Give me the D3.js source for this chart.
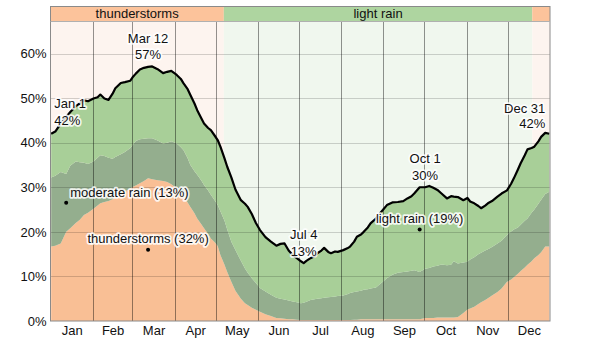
<!DOCTYPE html>
<html>
<head>
<meta charset="utf-8">
<script src="https://cdn.jsdelivr.net/npm/d3@7"></script>
<style>
  body { margin: 0; background: #fff; }
  svg text { font-family: Arial, "Liberation Sans", sans-serif; font-size: 13px; fill: #111; }
</style>
</head>
<body>
<svg id="chart" width="600" height="344"></svg>
<script>
// Day of year (0 = Jan 1, leap year) for each sample
const days = [
  0, 3, 7, 11, 14, 18, 21, 24, 27, 31,
  34, 36, 39, 42, 45, 47, 51, 54, 58, 60,
  62, 65, 68, 71, 74, 78, 82, 85, 88, 92,
  95, 97, 100, 102, 105, 107, 110, 112, 115, 117,
  120, 122, 124, 127, 129, 132, 135, 139, 142, 144,
  147, 150, 153, 157, 161, 165, 168, 171, 174, 177,
  180, 183, 185, 187, 190, 193, 195, 198, 200, 203,
  205, 208, 210, 214, 217, 219, 222, 224, 227, 229,
  232, 234, 238, 241, 243, 246, 250, 254, 258, 261,
  264, 266, 270, 274, 277, 280, 283, 286, 290, 293,
  295, 298, 302, 305, 307, 310, 313, 315, 318, 320,
  323, 327, 330, 334, 337, 339, 342, 344, 347, 349,
  352, 354, 357, 359, 362, 365
];

// Probability (%) of each precipitation type on a given day
const thunderstorms = [
  16.7, 16.9, 17.4, 20.0, 20.8, 22.0, 22.7, 23.8, 24.3, 25.2,
  25.9, 26.4, 26.7, 26.9, 27.3, 27.7, 28.6, 29.0, 29.8, 30.1,
  30.4, 30.9, 31.4, 32.0, 31.8, 31.6, 31.4, 31.2, 30.7, 29.8,
  28.8, 27.9, 26.6, 25.6, 24.2, 23.0, 21.7, 20.8, 19.5, 18.5,
  17.6, 16.8, 14.8, 12.6, 11.0, 8.8, 6.8, 5.0, 4.0, 3.6,
  3.0, 2.5, 2.1, 1.5, 1.1, 0.7, 0.6, 0.5, 0.4, 0.4,
  0.3, 0.2, 0.2, 0.2, 0.2, 0.2, 0.2, 0.2, 0.2, 0.2,
  0.2, 0.2, 0.2, 0.2, 0.2, 0.2, 0.3, 0.3, 0.4, 0.4,
  0.4, 0.4, 0.4, 0.4, 0.4, 0.4, 0.4, 0.4, 0.4, 0.4,
  0.4, 0.4, 0.4, 0.7, 0.7, 0.7, 0.8, 0.8, 0.8, 0.8,
  0.8, 0.9, 1.8, 2.6, 2.8, 3.2, 3.8, 4.2, 4.7, 5.1,
  5.7, 6.5, 7.3, 8.8, 9.3, 9.8, 10.6, 11.2, 12.0, 12.6,
  13.4, 14.1, 14.8, 15.4, 16.7, 16.7
];
const moderateRain = [
  15.5, 15.7, 16.0, 13.0, 14.0, 13.8, 12.9, 11.7, 10.9, 10.6,
  10.7, 10.8, 10.3, 9.7, 9.1, 9.1, 8.8, 8.9, 9.0, 9.5,
  10.0, 9.9, 9.5, 9.0, 9.2, 8.9, 8.4, 8.8, 9.6, 10.0,
  10.2, 10.4, 9.9, 9.4, 9.4, 9.8, 9.8, 9.7, 9.8, 9.8,
  9.4, 9.2, 9.8, 9.9, 9.5, 9.0, 9.1, 8.5, 7.8, 7.2,
  6.6, 6.0, 5.3, 5.1, 4.8, 4.5, 4.4, 4.3, 4.2, 4.0,
  3.9, 3.8, 3.9, 4.1, 4.5, 4.7, 4.8, 4.9, 5.0, 5.1,
  5.2, 5.3, 5.4, 5.5, 5.8, 6.1, 6.2, 6.3, 6.4, 6.6,
  6.7, 6.9, 7.1, 7.9, 8.4, 9.2, 10.0, 10.4, 10.6, 10.7,
  10.9, 11.0, 10.6, 11.0, 11.2, 11.5, 11.6, 11.9, 11.7, 11.8,
  12.6, 12.0, 11.3, 10.7, 11.0, 11.1, 11.2, 11.1, 11.1, 11.0,
  10.9, 10.9, 10.7, 10.5, 10.8, 10.7, 10.4, 10.4, 10.5, 10.4,
  10.9, 10.9, 11.5, 11.8, 11.8, 12.3
];
const lightRain = [
  9.8, 9.9, 10.9, 12.8, 12.1, 12.4, 13.2, 14.0, 14.1, 14.1,
  13.6, 13.6, 12.9, 13.0, 14.6, 15.4, 16.0, 15.7, 15.1, 15.2,
  15.1, 15.6, 15.9, 16.0, 16.1, 16.0, 15.8, 15.9, 15.8, 15.4,
  15.3, 15.0, 15.5, 15.7, 15.2, 14.5, 14.0, 13.8, 14.0, 14.5,
  14.5, 14.6, 14.5, 14.0, 14.1, 14.4, 13.6, 13.6, 14.5, 14.8,
  14.4, 13.5, 13.0, 12.2, 11.9, 11.7, 12.3, 12.6, 11.2, 10.4,
  9.9, 9.4, 8.9, 9.2, 9.4, 9.6, 10.2, 10.7, 11.2, 10.2,
  9.8, 10.1, 9.9, 10.2, 10.3, 10.4, 11.3, 12.3, 12.6, 13.0,
  13.9, 14.6, 15.5, 15.9, 16.1, 16.4, 16.2, 15.9, 15.9, 16.4,
  16.7, 17.2, 19.0, 18.3, 18.4, 17.7, 17.0, 15.9, 15.0, 15.4,
  14.5, 14.9, 14.0, 14.3, 13.0, 12.1, 10.8, 10.0, 10.1, 10.3,
  10.3, 10.5, 10.6, 10.0, 10.7, 11.5, 13.0, 13.8, 14.7, 15.5,
  14.5, 14.1, 14.0, 14.1, 13.7, 13.0
];

// Stacking order (bottom to top), colours and in-chart label positions
const seriesKeys = ["thunderstorms", "moderate rain", "light rain"];
const seriesColors = ["#f9bf95", "#94ae8e", "#a8cf98"];
const seriesLabelDays = [71, 11, 270];

// Dominant precipitation type by season (top strip)
const seasonNames = ["thunderstorms", "light rain", "thunderstorms"];
const seasonStarts = [0, 127, 353];
const seasonEnds = [127, 353, 366];
const seasonLabels = ["thunderstorms", "light rain", ""];

// Days whose total is called out on the black line
const calloutDays = [0, 71, 185, 274, 365];

const yTicks = [0, 10, 20, 30, 40, 50, 60];

// ---------------------------------------------------------------
const svg = d3.select("#chart");
const L = 50.5, R = 550, T = 21, B = 321, stripTop = 6;

const year0 = new Date(Date.UTC(2024, 0, 1));
const year1 = new Date(Date.UTC(2025, 0, 1));
const dayDate = d => new Date(year0.getTime() + (d + 0.5) * 864e5);

const x = d3.scaleUtc().domain([year0, year1]).range([L, R]);
const y = d3.scaleLinear().domain([0, 67.3]).range([B, T]);

const seriesData = [thunderstorms, moderateRain, lightRain];
const rows = days.map((d, i) => {
  const r = { day: d, date: dayDate(d) };
  seriesKeys.forEach((k, j) => r[k] = seriesData[j][i]);
  return r;
});
const totalOf = r => seriesKeys.reduce((s, k) => s + r[k], 0);

const seasonColor = { "thunderstorms": "#fdf4ef", "light rain": "#f0f7ee" };
const stripColor = { "thunderstorms": "#fcc39b", "light rain": "#aed5a0" };

// Plot background by season
svg.append("g").selectAll("rect")
  .data(seasonNames)
  .join("rect")
  .attr("x", (n, i) => x(new Date(year0.getTime() + seasonStarts[i] * 864e5)))
  .attr("width", (n, i) => x(new Date(year0.getTime() + seasonEnds[i] * 864e5)) - x(new Date(year0.getTime() + seasonStarts[i] * 864e5)))
  .attr("y", T).attr("height", B - T)
  .attr("fill", n => seasonColor[n]);

// Stacked areas
const stack = d3.stack().keys(seriesKeys);
const layers = stack(rows);
const area = d3.area()
  .x(d => x(d.data.date))
  .y0(d => y(d[0]))
  .y1(d => y(d[1]));

svg.append("g").selectAll("path")
  .data(layers)
  .join("path")
  .attr("d", area)
  .attr("fill", (d, i) => seriesColors[i]);

// Grid: horizontal at percentage ticks, vertical at month boundaries
svg.append("g").selectAll("line")
  .data(yTicks.filter(t => t > 0))
  .join("line")
  .attr("x1", L).attr("x2", R)
  .attr("y1", d => Math.round(y(d)) + 0.5).attr("y2", d => Math.round(y(d)) + 0.5)
  .attr("stroke", "rgba(0,0,0,0.17)");

const monthStarts = d3.utcMonth.range(year0, year1);
svg.append("g").selectAll("line")
  .data(monthStarts.slice(1))
  .join("line")
  .attr("x1", d => Math.round(x(d)) + 0.5).attr("x2", d => Math.round(x(d)) + 0.5)
  .attr("y1", T).attr("y2", B)
  .attr("stroke", "rgba(0,0,0,0.42)");

// Total probability line
const line = d3.line()
  .x(d => x(d.date))
  .y(d => y(totalOf(d)));
svg.append("path")
  .datum(rows)
  .attr("d", line)
  .attr("fill", "none")
  .attr("stroke", "#000")
  .attr("stroke-width", 2.2)
  .attr("stroke-linejoin", "round");

// Season strip above the plot
const strip = svg.append("g");
seasonNames.forEach((n, i) => {
  const x0 = x(new Date(year0.getTime() + seasonStarts[i] * 864e5));
  const x1 = x(new Date(year0.getTime() + seasonEnds[i] * 864e5));
  strip.append("rect")
    .attr("x", x0).attr("width", x1 - x0)
    .attr("y", stripTop).attr("height", T - stripTop)
    .attr("fill", stripColor[n]);
  if (seasonLabels[i]) {
    strip.append("text")
      .attr("x", (x0 + x1) / 2).attr("y", T - 3)
      .attr("text-anchor", "middle")
      .text(seasonLabels[i]);
  }
});

// Frame
svg.append("rect")
  .attr("x", L).attr("y", stripTop + 0.5)
  .attr("width", R - L).attr("height", B - stripTop - 0.5)
  .attr("fill", "none").attr("stroke", "#8a8a8a");
svg.append("line")
  .attr("x1", L).attr("x2", R).attr("y1", T + 0.5).attr("y2", T + 0.5)
  .attr("stroke", "#b0b0b0");

// Y axis labels
const yAxis = d3.axisLeft(y).tickValues(yTicks).tickFormat(d => d + "%").tickSize(0).tickPadding(4);
const ya = svg.append("g").attr("transform", `translate(${L},0)`).call(yAxis);
ya.select(".domain").remove();
ya.selectAll("text").style("font-size", "13px").attr("fill", "#111")
  .style("font-family", 'Arial, "Liberation Sans", sans-serif');

// Month labels centred in each month
const monthMid = monthStarts.map(m => new Date((m.getTime() + d3.utcMonth.offset(m, 1).getTime()) / 2));
const xAxis = d3.axisBottom(x).tickValues(monthMid).tickFormat(d3.utcFormat("%b")).tickSize(0).tickPadding(5);
const xa = svg.append("g").attr("transform", `translate(0,${B})`).call(xAxis);
xa.select(".domain").remove();
xa.selectAll("text").style("font-size", "13px").attr("fill", "#111")
  .style("font-family", 'Arial, "Liberation Sans", sans-serif');

// Halo-text helper
function haloText(g, px, py, str, anchor) {
  g.append("text")
    .attr("x", px).attr("y", py)
    .attr("text-anchor", anchor)
    .attr("stroke", "rgba(255,255,255,0.85)")
    .attr("stroke-width", 3.5)
    .attr("stroke-linejoin", "round")
    .attr("paint-order", "stroke")
    .text(str);
}

// Callouts on the total line
const fmtDay = d3.utcFormat("%b %-d");
const callouts = svg.append("g");
calloutDays.forEach((d, i) => {
  const r = rows.find(row => row.day === d);
  const px = x(r.date), py = y(totalOf(r));
  let anchor = "middle", dx = 0, dy1 = -24, dy2 = -7.5;
  if (i === 0) { anchor = "start"; dx = 3; dy1 = -25.5; dy2 = -9; }
  if (i === calloutDays.length - 1) { anchor = "end"; dx = -4; dy1 = -21; dy2 = -5.5; }
  haloText(callouts, px + dx, py + dy1, fmtDay(r.date), anchor);
  haloText(callouts, px + dx, py + dy2, Math.round(totalOf(r)) + "%", anchor);
});

// Series labels with markers at the middle of each band
const seriesLabels = svg.append("g");
seriesKeys.forEach((k, j) => {
  const idx = days.indexOf(seriesLabelDays[j]);
  const layer = layers[j][idx];
  const px = x(rows[idx].date), py = y((layer[0] + layer[1]) / 2);
  seriesLabels.append("circle").attr("cx", px).attr("cy", py).attr("r", 2).attr("fill", "#000");
  const txt = `${k} (${Math.round(rows[idx][k])}%)`;
  if (j === 1) haloText(seriesLabels, px + 4, py - 6, txt, "start");
  else haloText(seriesLabels, px, py - 6.5, txt, "middle");
});
</script>
</body>
</html>
